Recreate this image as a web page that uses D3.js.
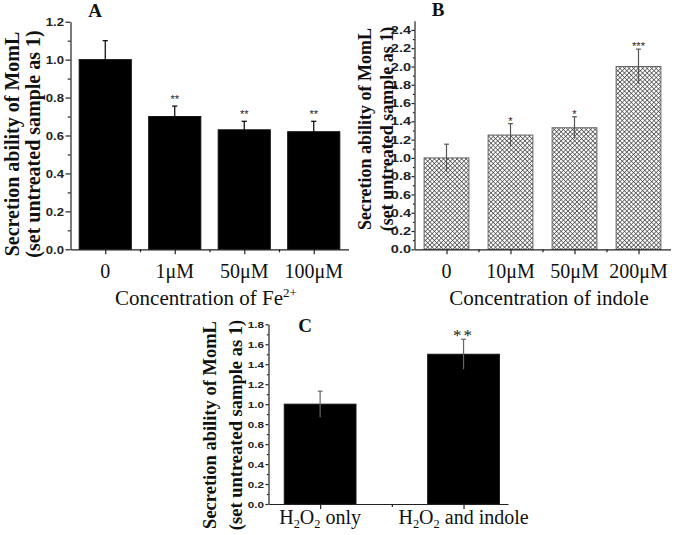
<!DOCTYPE html>
<html>
<head>
<meta charset="utf-8">
<script src="https://cdn.jsdelivr.net/npm/d3@7"></script>
<style>
  body { margin: 0; background: #fff; }
  svg { display: block; }
</style>
</head>
<body>
<script>
// panel A: Fe2+ treatment
const catsA = ['0', '1μM', '50μM', '100μM'];
const valsA = [1.00, 0.70, 0.63, 0.62];
const errA  = [0.10, 0.055, 0.045, 0.055];
const sigA  = ['', '**', '**', '**'];
const yTicksA = [0, 0.2, 0.4, 0.6, 0.8, 1.0, 1.2];

// panel B: indole treatment
const catsB = ['0', '10μM', '50μM', '200μM'];
const valsB = [1.00, 1.25, 1.33, 2.00];
const errB  = [0.15, 0.125, 0.12, 0.19];
const sigB  = ['', '*', '*', '***'];
const yTicksB = [0, 0.2, 0.4, 0.6, 0.8, 1.0, 1.2, 1.4, 1.6, 1.8, 2.0, 2.2, 2.4];

// panel C: H2O2 with / without indole
const catsC = ['H2O2 only', 'H2O2 and indole'];
const valsC = [1.00, 1.50];
const errC  = [0.13, 0.15];
const sigC  = ['', '**'];
const yTicksC = [0, 0.2, 0.4, 0.6, 0.8, 1.0, 1.2, 1.4, 1.6, 1.8];

const serif = '"Liberation Serif", "Times New Roman", serif';
const sans = '"Liberation Sans", Arial, sans-serif';

const svg = d3.select('body').append('svg')
    .attr('width', 675)
    .attr('height', 535);

// crosshatch for panel B
const pat = svg.append('defs').append('pattern')
    .attr('id', 'hatch')
    .attr('patternUnits', 'userSpaceOnUse')
    .attr('width', 3.2)
    .attr('height', 3.2)
    .attr('patternTransform', 'rotate(45)');
pat.append('rect').attr('width', 3.2).attr('height', 3.2).attr('fill', '#fff');
pat.append('line').attr('x1', 0).attr('y1', 0).attr('x2', 3.2).attr('y2', 0)
    .attr('stroke', '#3a3a3a').attr('stroke-width', 1.3);
pat.append('line').attr('x1', 0).attr('y1', 0).attr('x2', 0).attr('y2', 3.2)
    .attr('stroke', '#3a3a3a').attr('stroke-width', 1.3);

// writes "H2O2 ..." with digits as subscripts
function subText(sel, str, size) {
    let down = false;
    str.split(/(\d)/).filter(s => s !== '').forEach(part => {
        if (/\d/.test(part)) {
            sel.append('tspan').attr('font-size', size * 0.62).attr('dy', down ? 0 : size * 0.22).text(part);
            down = true;
        } else {
            const t = sel.append('tspan').text(part);
            if (down) t.attr('dy', -size * 0.22);
            down = false;
        }
    });
}

function drawPanel(o) {
    const g = svg.append('g');
    const x = d3.scaleLinear().domain(o.xDomain).range(o.xRange);
    const y = d3.scaleLinear().domain(o.yDomain).range(o.yRange);
    const bw = x(2 * o.half) - x(0);

    // bars
    g.append('g').selectAll('rect')
        .data(o.vals)
        .join('rect')
            .attr('x', (d, i) => x(i - o.half))
            .attr('width', bw)
            .attr('y', d => y(d))
            .attr('height', d => y(0) - y(d))
            .attr('fill', o.fill)
            .attr('stroke', o.stroke)
            .attr('stroke-width', 1);

    // error bars
    const eb = g.append('g').attr('stroke', o.errColor).attr('stroke-width', 1.2);
    eb.selectAll('line.v')
        .data(o.vals)
        .join('line')
            .attr('class', 'v')
            .attr('x1', (d, i) => x(i)).attr('x2', (d, i) => x(i))
            .attr('y1', (d, i) => y(d - o.err[i]))
            .attr('y2', (d, i) => y(d + o.err[i]));
    eb.selectAll('line.cap')
        .data(o.vals)
        .join('line')
            .attr('class', 'cap')
            .attr('x1', (d, i) => x(i) - o.cap).attr('x2', (d, i) => x(i) + o.cap)
            .attr('y1', (d, i) => y(d + o.err[i]))
            .attr('y2', (d, i) => y(d + o.err[i]));

    // significance stars
    g.append('g').selectAll('text')
        .data(o.vals)
        .join('text')
            .attr('x', (d, i) => x(i))
            .attr('y', (d, i) => y(d + o.err[i]) + o.starDy)
            .attr('text-anchor', 'middle')
            .attr('font-family', o.starFont)
            .attr('font-size', o.starSize)
            .attr('letter-spacing', o.starSpacing)
            .attr('fill', '#222')
            .text((d, i) => o.sig[i]);

    // y axis
    const yAxis = g.append('g')
        .attr('transform', `translate(${o.xRange[0]},0)`)
        .call(d3.axisLeft(y).tickValues(o.yTicks).tickSize(o.tick).tickSizeOuter(0).tickFormat(d3.format('.1f')));
    yAxis.selectAll('text')
        .attr('x', null)
        .attr('dy', '0.36em')
        .attr('transform', `translate(${-o.tick - o.gap},0) scale(${o.sx},1)`)
        .attr('font-family', sans)
        .attr('font-weight', 'bold')
        .attr('font-size', o.tickFont)
        .attr('fill', '#222');
    g.append('g')
        .attr('transform', `translate(${o.xRange[0]},0)`)
        .call(d3.axisLeft(y).tickValues(d3.range(0.1, o.yTicks[o.yTicks.length - 1], 0.2)).tickSize(o.tick * 0.55).tickFormat(''))
        .select('.domain').remove();

    // x axis
    const idx = d3.range(o.vals.length);
    g.append('g')
        .attr('transform', `translate(0,${o.yRange[0]})`)
        .call(d3.axisBottom(x).tickValues(idx).tickSize(5).tickSizeOuter(0).tickFormat(''));
    g.append('g')
        .attr('transform', `translate(0,${o.yRange[0]})`)
        .call(d3.axisBottom(x).tickValues(idx.slice(1).map(i => i - 0.5)).tickSize(3).tickFormat(''))
        .select('.domain').remove();

    g.selectAll('.domain, .tick line').attr('stroke', '#222').attr('stroke-width', 1.2);

    // category labels
    g.append('g').selectAll('text')
        .data(o.cats)
        .join('text')
            .attr('x', (d, i) => x(i))
            .attr('y', o.catY)
            .attr('text-anchor', 'middle')
            .attr('font-family', serif)
            .attr('font-size', 20)
            .attr('fill', '#111')
            .each(function (d) {
                if (o.subDigits) subText(d3.select(this), d, 20);
                else d3.select(this).text(d);
            });

    // y title, two lines
    [['Secretion ability of MomL', o.ylabX[0]], ['(set untreated sample as 1)', o.ylabX[1]]].forEach(([t, px]) => {
        g.append('text')
            .attr('transform', `translate(${px},${o.ylabY}) rotate(-90)`)
            .attr('text-anchor', 'middle')
            .attr('font-family', serif)
            .attr('font-weight', 'bold')
            .attr('font-size', o.ylabSize)
            .attr('fill', '#111')
            .text(t);
    });

    // panel letter
    g.append('text')
        .attr('x', o.letterPos[0])
        .attr('y', o.letterPos[1])
        .attr('text-anchor', 'middle')
        .attr('font-family', serif)
        .attr('font-weight', 'bold')
        .attr('font-size', 19)
        .attr('fill', '#111')
        .text(o.letter);

    return g;
}

const gA = drawPanel({
    cats: catsA, vals: valsA, err: errA, sig: sigA, yTicks: yTicksA,
    xDomain: [-0.5, 3.5], xRange: [70.5, 348.5],
    yDomain: [0, 1.2], yRange: [249.3, 21.7],
    half: 0.375, fill: '#000', stroke: '#111', errColor: '#000', cap: 2.6,
    starDy: -3, starFont: sans, starSize: 11, starSpacing: 0,
    tick: 5, gap: 1.5, sx: 1.25, tickFont: 10.5,
    catY: 278, ylabX: [19, 40], ylabY: 144, ylabSize: 20,
    letter: 'A', letterPos: [95, 17]
});
gA.append('text')
    .attr('x', 206).attr('y', 305)
    .attr('text-anchor', 'middle')
    .attr('font-family', serif).attr('font-size', 21).attr('fill', '#111')
    .call(t => {
        t.append('tspan').text('Concentration of Fe');
        t.append('tspan').attr('font-size', 13).attr('dy', -8).text('2+');
    });

const gB = drawPanel({
    cats: catsB, vals: valsB, err: errB, sig: sigB, yTicks: yTicksB,
    xDomain: [-0.5, 3.5], xRange: [414.5, 670.5],
    yDomain: [0, 2.5], yRange: [249.3, 20.8],
    half: 0.35, fill: 'url(#hatch)', stroke: '#666', errColor: '#555', cap: 2.4,
    starDy: 1, starFont: sans, starSize: 11, starSpacing: 0,
    tick: 3, gap: 0.5, sx: 1.45, tickFont: 10,
    catY: 278, ylabX: [371, 393], ylabY: 129, ylabSize: 18,
    letter: 'B', letterPos: [438, 16]
});
gB.append('text')
    .attr('x', 549).attr('y', 305)
    .attr('text-anchor', 'middle')
    .attr('font-family', serif).attr('font-size', 21).attr('fill', '#111')
    .text('Concentration of indole');

drawPanel({
    cats: catsC, vals: valsC, err: errC, sig: sigC, yTicks: yTicksC, subDigits: true,
    xDomain: [-0.36, 1.31], xRange: [268.5, 508],
    yDomain: [0, 1.8], yRange: [504, 324.3],
    half: 0.25, fill: '#000', stroke: '#111', errColor: '#666', cap: 2.4,
    starDy: 2, starFont: serif, starSize: 17, starSpacing: 2,
    tick: 3, gap: 1.5, sx: 1.3, tickFont: 9,
    catY: 524, ylabX: [216, 242], ylabY: 425, ylabSize: 18.5,
    letter: 'C', letterPos: [305, 332]
});
</script>
</body>
</html>
